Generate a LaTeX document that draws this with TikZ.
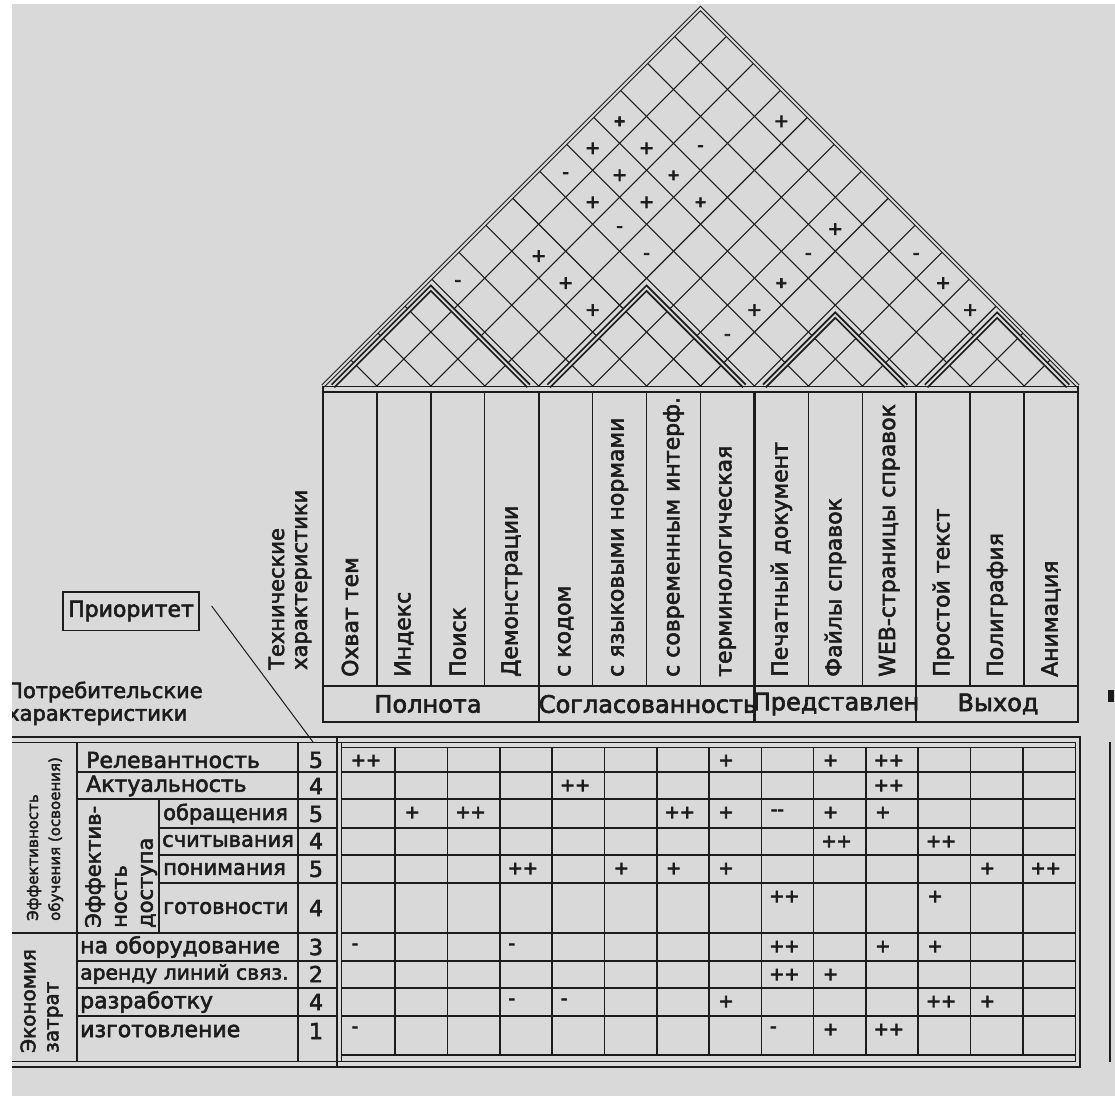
\documentclass[tikz,border=0pt]{standalone}
\usepackage{fontspec}
\setmainfont{DejaVu Sans}[RawFeature={embolden=2.6}]
\newfontfamily\symfont{DejaVu Sans}[RawFeature={embolden=4}]
\definecolor{bg}{HTML}{D9D9D9}
\definecolor{ink}{HTML}{1C1C1C}
\tikzset{
  gridln/.style={draw=ink, line width=1.1pt},
  dbl/.style={draw=ink, line width=1.2pt, double=bg, double distance=1.8pt, line join=miter},
  txt/.style={text=ink, inner sep=0pt, font=\fontsize{22}{25}\selectfont},
  rtxt/.style={txt, rotate=90, anchor=west, align=left},
  gtxt/.style={text=ink, inner sep=0pt, font=\fontsize{24}{26}\selectfont},
  sym/.style={text=ink, inner sep=0pt, font=\symfont\fontsize{18}{18}\selectfont},
  bsym/.style={text=ink, inner sep=0pt, font=\symfont\fontsize{15}{15}\selectfont\bfseries},
  msym/.style={text=ink, inner sep=0pt, font=\symfont\fontsize{18}{18}\selectfont},
  tln/.style={draw=ink, line width=1.6pt},
  fthick/.style={draw=ink, line width=2.4pt},
  fthin/.style={draw=ink, line width=1pt}
}
\begin{document}
\begin{tikzpicture}[x=1pt,y=-1pt]
\path[use as bounding box] (0,0) rectangle (1115,1096);
\fill[bg] (0,0) rectangle (1115,1096);

% ---------- roof grid ----------
\foreach \k in {0,...,14}{
  \pgfmathsetmacro\bk{323+\k*53.9286}
  \pgfmathsetmacro\tr{(14-\k)*26.9643}
  \pgfmathsetmacro\tl{\k*26.9643}
  \draw[gridln] (\bk,386) -- ++(\tr,-\tr);
  \draw[gridln] (\bk,386) -- ++(-\tl,-\tl);
}
% roof symbols
\foreach \i/\j [count=\n] in {4/14,1/10,2/11,2/10,2/9,3/10,7/13,2/7,3/7,10/14,4/7,7/10,11/14}{
  \node[sym] (rp\n) at ({323+53.9286*(\i+\j-1)/2},{386-(\j-\i)*26.9643+5}) {+};
}
\foreach \i/\j [count=\n] in {3/12,1/9,3/9,4/9,7/12,9/14,1/5,7/9}{
  \node[sym] (rm\n) at ({323+53.9286*(\i+\j-1)/2},{386-(\j-\i)*26.9643+5}) {-};
}
\foreach \i/\j [count=\n] in {1/11,3/11,4/11,7/11}{
  \node[bsym] (rb\n) at ({323+53.9286*(\i+\j-1)/2},{386-(\j-\i)*26.9643+5}) {+};
}
% outer roof edge
\draw[dbl] (323,386) -- (700.5,8.5) -- (1078,386);
% group roofs
\foreach \a/\b in {323/538.714, 538.714/754.429, 754.429/916.214, 916.214/1078}{
  \draw[dbl, line width=1.9pt] ({\a+10},386) -- ({(\a+\b)/2},{386-(\b-\a)/2+10}) -- ({\b-10},386);
}
% base lines
\draw[fthin] (323,386) -- (1078,386);
\draw[ink, line width=2.6pt] (323,392) -- (1078,392);

% ---------- header ----------
\foreach \k in {1,2,3,5,6,7,9,10,12,13}{
  \draw[ink, line width=1.4pt] ({323+\k*53.9286},392) -- ({323+\k*53.9286},686);
}
\foreach \k in {4,8,11}{
  \draw[fthick] ({323+\k*53.9286},392) -- ({323+\k*53.9286},722);
}
\draw[fthick] (323,386) -- (323,722) -- (1078,722) -- (1078,386);
\draw[ink, line width=1.4pt] (323,686) -- (1078,686);

\foreach \t [count=\i] in {Охват тем,Индекс,Поиск,Демонстрации,с кодом,с языковыми нормами,с современным интерф.,терминологическая,Печатный документ,Файлы справок,WEB-страницы справок,Простой текст,Полиграфия,Анимация}{
  \node[rtxt] (h\i) at ({323+(\i-0.5)*53.9286},677) {\t};
}
\node[gtxt] (g1) at (428,704) {Полнота};
\node[gtxt] (g2) at (648,704) {Согласованность};
\node[gtxt] (g3) at (836,704) {Представлен};
\node[gtxt] (g4) at (998,704) {Выход};

\node[rtxt, font=\fontsize{21}{23}\selectfont] (tech) at (290,670) {Технические\\характеристики};

% ---------- priority label ----------
\node[txt, draw=ink, line width=1.6pt, inner xsep=5pt, inner ysep=9pt] (prio) at (131,611) {Приоритет};
\coordinate (pend) at (313,742);
\draw[ink, line width=1pt] ([shift={(12,-5)}]prio.east) -- (pend);

\node[txt, anchor=west, font=\fontsize{21}{24}\selectfont] (cons1) at (7,692) {Потребительские};
\node[txt, anchor=west, font=\fontsize{21}{24}\selectfont] (cons2) at (7,717) {характеристики};

% ---------- frames ----------
\draw[fthick] (12,737) -- (1080,737) -- (1080,1067) -- (12,1067);
\draw[fthin] (12,742.5) -- (1075.5,742.5) -- (1075.5,1061) -- (12,1061);
\draw[fthick] (337,737) -- (337,1067);
\draw[fthin] (341.5,742.5) -- (341.5,1061);

% matrix grid
\draw[tln] (341.5,747.5) -- (1075.5,747.5);
\foreach \yy in {772,799,828,855,883,933,961,988,1016,1055}{
  \draw[tln] (341.5,\yy) -- (1075.5,\yy);
}
\foreach \k in {1,...,13}{
  \draw[tln] ({343+\k*52.286},747.5) -- ({343+\k*52.286},1055);
}

% left table lines
\draw[tln] (77,742.5) -- (77,1061);
\draw[tln] (159,799) -- (159,933);
\draw[tln] (298,742.5) -- (298,1061);
\foreach \yy in {772,799,961,988,1016}{ \draw[tln] (77,\yy) -- (337,\yy); }
\foreach \yy in {828,855,883}{ \draw[tln] (159,\yy) -- (337,\yy); }
\draw[tln] (12,933) -- (337,933);

% rotated group labels
\node[rtxt, font=\fontsize{15}{22}\selectfont] (eff) at (45,921) {Эффективность\\обучения (освоения)};
\node[rtxt, font=\fontsize{20}{23}\selectfont] (econ) at (41.5,1053) {Экономия\\затрат};
\node[rtxt, font=\fontsize{21}{26}\selectfont] (effd) at (121,928) {Эффектив-\\ность\\доступа};

% row labels
\node[txt, anchor=west] (l1) at (86,760) {Релевантность};
\node[txt, anchor=west] (l2) at (86,786) {Актуальность};
\node[txt, anchor=west, font=\fontsize{21}{24}\selectfont] (l3) at (163,814) {обращения};
\node[txt, anchor=west, font=\fontsize{21}{24}\selectfont] (l4) at (162,841) {считывания};
\node[txt, anchor=west, font=\fontsize{21}{24}\selectfont] (l5) at (163,869) {понимания};
\node[txt, anchor=west, font=\fontsize{21}{24}\selectfont] (l6) at (163,908) {готовности};
\node[txt, anchor=west] (l7) at (80,947) {на оборудование};
\node[txt, anchor=west, font=\fontsize{20.3}{24}\selectfont] (l8) at (80,974) {аренду линий связ.};
\node[txt, anchor=west] (l9) at (80,1002) {разработку};
\node[txt, anchor=west] (l10) at (80,1031) {изготовление};

\foreach \v/\yy [count=\n] in {5/760,4/786,5/814,4/841,5/869,4/908,3/947,2/974,4/1002,1/1031}{
  \node[txt] (p\n) at (316,\yy) {\v};
}

% matrix symbols
\def\RT{{747,772,799,828,855,883,933,961,988,1016}}
\foreach \r/\c [count=\n] in {1/8,1/10,3/2,3/8,3/10,3/11,5/6,5/7,5/8,5/13,6/12,7/11,7/12,8/10,9/8,9/13,10/10}{
  \pgfmathsetmacro\yy{\RT[\r-1]+13.5}
  \node[msym] (mp\n) at ({343+52.286*(\c-1)+17},\yy) {+};
}
\foreach \r/\c [count=\n] in {1/1,1/11,2/5,2/11,3/3,3/7,4/10,4/12,5/4,5/14,6/9,7/9,8/9,9/12,10/11}{
  \pgfmathsetmacro\yy{\RT[\r-1]+13.5}
  \node[msym] (mq\n) at ({343+52.286*(\c-1)+23},\yy) {++};
}
\foreach \r/\c [count=\n] in {7/1,7/4,9/4,9/5,10/1,10/9}{
  \pgfmathsetmacro\yy{\RT[\r-1]+13.5}
  \node[msym] (mm\n) at ({343+52.286*(\c-1)+12},\yy) {-};
}
\node[msym] (mmm) at ({343+52.286*8+16},{799+13.5}) {--};

% right edge partial
\draw[fthick] (1110,742) -- (1110,1062);
\fill[ink] (1108,690) rectangle (1114,702);

% white margins
\fill[white] (0,0) rectangle (12,1096);
\fill[white] (0,0) rectangle (1115,4);
\end{tikzpicture}
\end{document}
